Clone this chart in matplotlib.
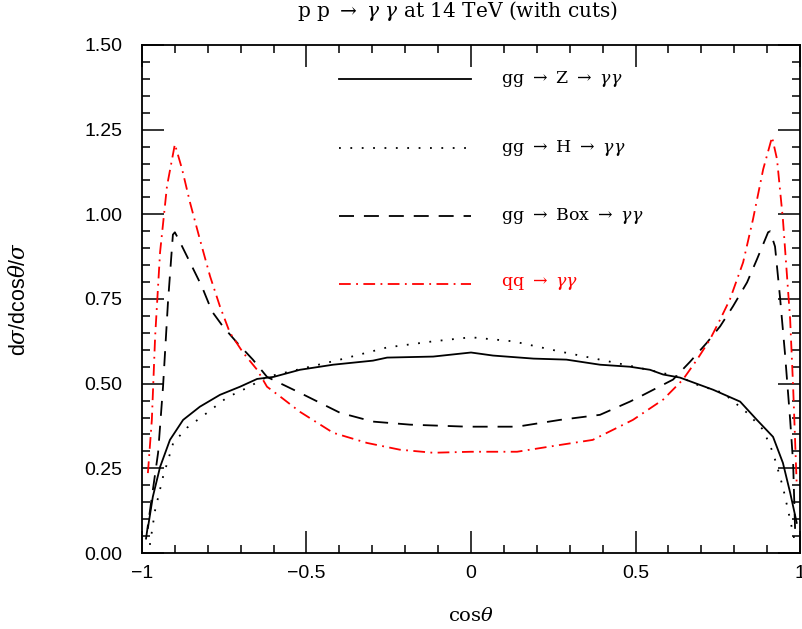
import numpy as np
import matplotlib.pyplot as plt
from matplotlib.ticker import MultipleLocator, FixedLocator

# values
x_z = [-0.982, -0.967, -0.945, -0.915, -0.875, -0.824, -0.763, -0.702, -0.65, -0.60,
       -0.52, -0.419, -0.298, -0.255, -0.115, 0.0, 0.067, 0.19, 0.29, 0.392, 0.483,
       0.544, 0.584, 0.635, 0.736, 0.818, 0.869, 0.918, 0.948, 0.97, 0.99]
y_z = [0.074, 0.166, 0.254, 0.334, 0.393, 0.432, 0.467, 0.491, 0.514, 0.52,
       0.541, 0.556, 0.568, 0.577, 0.580, 0.592, 0.583, 0.574, 0.571, 0.556, 0.550,
       0.541, 0.527, 0.518, 0.482, 0.447, 0.393, 0.343, 0.266, 0.178, 0.089]

x_h = [-0.976, -0.96, -0.936, -0.905, -0.863, -0.802, -0.742, -0.68, -0.62, -0.52,
       -0.398, -0.255, -0.115, 0.0, 0.128, 0.27, 0.392, 0.492, 0.635, 0.687, 0.766,
       0.839, 0.888, 0.918, 0.948, 0.97, 0.985]
y_h = [0.024, 0.127, 0.225, 0.325, 0.37, 0.414, 0.459, 0.488, 0.52, 0.543,
       0.571, 0.607, 0.625, 0.637, 0.625, 0.595, 0.571, 0.551, 0.52, 0.497, 0.473,
       0.414, 0.364, 0.296, 0.195, 0.098, 0.03]

x_box = [-0.988, -0.951, -0.936, -0.921, -0.906, -0.90, -0.884, -0.854, -0.818, -0.787,
         -0.754, -0.711, -0.663, -0.62, -0.52, -0.398, -0.298, -0.185, -0.012, 0.14,
         0.27, 0.392, 0.483, 0.514, 0.614, 0.666, 0.717, 0.757, 0.796, 0.839, 0.869,
         0.903, 0.909, 0.924, 0.939, 0.954, 0.97, 0.979, 0.985]
y_box = [0.04, 0.296, 0.491, 0.74, 0.94, 0.947, 0.917, 0.858, 0.787, 0.713,
         0.669, 0.621, 0.571, 0.52, 0.473, 0.414, 0.388, 0.379, 0.373, 0.373,
         0.393, 0.408, 0.447, 0.462, 0.512, 0.565, 0.621, 0.669, 0.728, 0.799, 0.867,
         0.947, 0.95, 0.905, 0.757, 0.592, 0.393, 0.266, 0.07]

x_qq = [-0.982, -0.97, -0.96, -0.945, -0.924, -0.90, -0.878, -0.854, -0.824, -0.793,
        -0.763, -0.733, -0.693, -0.65, -0.62, -0.58, -0.52, -0.419, -0.316, -0.216,
        -0.115, 0.0, 0.14, 0.27, 0.37, 0.492, 0.584, 0.644, 0.687, 0.726, 0.757,
        0.787, 0.827, 0.857, 0.888, 0.915, 0.93, 0.948, 0.97, 0.979, 0.99]
y_qq = [0.236, 0.393, 0.639, 0.888, 1.083, 1.207, 1.133, 1.035, 0.926, 0.817,
        0.728, 0.651, 0.592, 0.541, 0.491, 0.462, 0.417, 0.355, 0.325, 0.305,
        0.296, 0.299, 0.299, 0.319, 0.334, 0.393, 0.453, 0.512, 0.571, 0.630, 0.689,
        0.749, 0.858, 0.985, 1.133, 1.228, 1.163, 0.985, 0.689, 0.491, 0.2]

labels = [r'gg $\rightarrow$ Z $\rightarrow$ $\gamma\gamma$',
          r'gg $\rightarrow$ H $\rightarrow$ $\gamma\gamma$',
          r'gg $\rightarrow$ Box $\rightarrow$ $\gamma\gamma$',
          r'qq $\rightarrow$ $\gamma\gamma$']
legend_y = [1.40, 1.195, 0.995, 0.795]

xticks = [-1, -0.5, 0, 0.5, 1]
xticklabels = ['\u22121', '\u22120.5', '0', '0.5', '1']
yticks = [0, 0.25, 0.5, 0.75, 1.0, 1.25, 1.5]

plt.rcParams['mathtext.fontset'] = 'dejavuserif'

fig = plt.figure(figsize=(8.03, 6.29), dpi=100)
ax = fig.add_axes([0.1768, 0.1208, 0.8195, 0.8077])

lw = 1.3
dot = (0, (1, 5.3))
dash = (0, (8.3, 5.5))
dashdot = (0, (6.5, 3, 1, 3))
ax.plot(x_z, y_z, color='black', lw=lw, ls='-')
ax.plot(x_h, y_h, color='black', lw=lw, ls=dot)
ax.plot(x_box, y_box, color='black', lw=lw, ls=dash)
ax.plot(x_qq, y_qq, color='red', lw=lw, ls=dashdot)

# legend drawn as in the original (line + text)
styles = [('black', '-'), ('black', dot), ('black', dash), ('red', dashdot)]
for (c, s), lab, yy in zip(styles, labels, legend_y):
    ax.plot([-0.4, 0.0], [yy, yy], color=c, ls=s, lw=lw)
    ax.text(0.09, yy, lab, color=c, fontsize=12.5, family='DejaVu Serif',
            va='center', ha='left')

ax.set_xlim(-1, 1)
ax.set_ylim(0, 1.5)
ax.xaxis.set_major_locator(FixedLocator(xticks))
ax.xaxis.set_minor_locator(MultipleLocator(0.1))
ax.yaxis.set_major_locator(FixedLocator(yticks))
ax.yaxis.set_minor_locator(MultipleLocator(0.05))
ax.set_xticklabels(xticklabels)
ax.set_yticklabels(['%.2f' % v for v in yticks])

ax.tick_params(which='both', direction='in', top=True, right=True,
               labelsize=14, width=1.1)
ax.tick_params(axis='x', pad=8.5)
ax.tick_params(axis='y', pad=14)
ax.tick_params(which='major', length=16)
ax.tick_params(which='minor', length=6)
for t in ax.get_xticklabels() + ax.get_yticklabels():
    t.set_family('Liberation Sans')
for sp in ax.spines.values():
    sp.set_linewidth(1.3)

ax.set_xlabel(r'cos$\theta$', fontsize=14, family='DejaVu Serif', labelpad=18)
ax.set_ylabel(r'd$\sigma$/dcos$\theta$/$\sigma$', fontsize=15.5,
              family='Liberation Sans', labelpad=39)
fig.text(0.57, 0.982, r'p p $\rightarrow$ $\gamma$ $\gamma$ at 14 TeV (with cuts)',
         fontsize=14.5, family='DejaVu Serif', ha='center', va='center')

fig.savefig('out.png', dpi=100)
